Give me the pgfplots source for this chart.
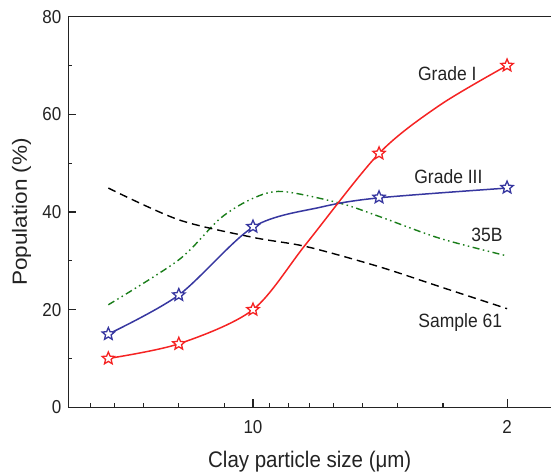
\documentclass[border=0pt]{standalone}
\usepackage{fontspec}
\setmainfont{Liberation Sans}
\usepackage{pgfplots}
\pgfplotsset{compat=1.18}

\pgfdeclareplotmark{ostar}{%
  \pgfpathmoveto{\pgfqpoint{0pt}{1\pgfplotmarksize}}%
  \pgfpathlineto{\pgfqpoint{0.2645\pgfplotmarksize}{0.364\pgfplotmarksize}}%
  \pgfpathlineto{\pgfqpoint{0.951\pgfplotmarksize}{0.309\pgfplotmarksize}}%
  \pgfpathlineto{\pgfqpoint{0.428\pgfplotmarksize}{-0.139\pgfplotmarksize}}%
  \pgfpathlineto{\pgfqpoint{0.588\pgfplotmarksize}{-0.809\pgfplotmarksize}}%
  \pgfpathlineto{\pgfqpoint{0pt}{-0.45\pgfplotmarksize}}%
  \pgfpathlineto{\pgfqpoint{-0.588\pgfplotmarksize}{-0.809\pgfplotmarksize}}%
  \pgfpathlineto{\pgfqpoint{-0.428\pgfplotmarksize}{-0.139\pgfplotmarksize}}%
  \pgfpathlineto{\pgfqpoint{-0.951\pgfplotmarksize}{0.309\pgfplotmarksize}}%
  \pgfpathlineto{\pgfqpoint{-0.2645\pgfplotmarksize}{0.364\pgfplotmarksize}}%
  \pgfpathclose
  \pgfusepathqfillstroke}

\definecolor{gred}{RGB}{245,35,35}
\definecolor{gblue}{RGB}{55,55,160}
\definecolor{ggreen}{RGB}{25,125,25}
\definecolor{axgray}{RGB}{35,35,35}

% measured points (marks)
\pgfplotstableread{
x y
25 10
16 13
10 20
4.5 52
2 70
}\gradeI
\pgfplotstableread{
x y
25 15
16 23
10 37
4.5 43
2 45
}\gradeIII
% curves read off the picture
\pgfplotstableread{
x y
25 10
16 13
10 20
7.12 33.6
4.5 52
3.06 61.9
2 70
}\gradeIcurve
\pgfplotstableread{
x y
25 15
16 23
10 36.9
6.5 41.0
4.5 42.9
2 44.9
}\gradeIIIcurve
\pgfplotstableread{
x y
25 21.0
16 30.2
12.3 38.7
10 42.8
8.3 44.2
5.76 41.8
4.5 39.1
3.06 34.6
2 31.0
}\thirtyfiveB
\pgfplotstableread{
x y
25 44.9
16 38.4
10 34.8
7.12 32.9
4.5 28.8
3.06 24.7
2 20.2
}\sampleSixtyOne

\begin{document}
\begin{tikzpicture}
\begin{axis}[
  scale only axis, width=482.5pt, height=390.6pt,
  xmode=log, x dir=reverse, xmin=1.514, xmax=32.18,
  ymin=0, ymax=80,
  axis x line*=box, axis y line*=left,
  xtick pos=left, ytick pos=left,
  axis line style={axgray, line width=1.3pt},
  every tick/.style={axgray, line width=1.1pt},
  tick align=inside,
  major tick length=8pt, minor tick length=4pt,
  xtick={2,10}, xticklabels={\scalebox{1}[1.1]{2},\scalebox{1}[1.1]{10}},
  minor xtick={3,4,5,6,7,8,9,12,16,20,24,28},
  ytick={0,20,40,60,80}, minor ytick={10,30,50,70},
  yticklabels={\scalebox{1}[1.1]{0},\scalebox{1}[1.1]{20},\scalebox{1}[1.1]{40},\scalebox{1}[1.1]{60},\scalebox{1}[1.1]{80}},
  tick label style={font=\fontsize{17}{20}\selectfont, text=axgray},
  xticklabel style={anchor=center, yshift=-19.7pt},
  yticklabel style={anchor=east, inner sep=0pt, xshift=-7pt},
  xlabel={\scalebox{1}[1.1]{Clay particle size (μm)}},
  ylabel={\scalebox{1.1}[1]{Population (\%)}},
  label style={font=\fontsize{20.5}{24}\selectfont, text=axgray},
  xlabel style={at={(axis description cs:0.5,0)}, anchor=center, yshift=-54.7pt},
  ylabel style={at={(axis description cs:-0.097,0.5)}, anchor=center},
  clip=false,
]
\addplot[ggreen, line width=1.4pt, smooth, dash pattern=on 7pt off 3.5pt on 1.5pt off 3.5pt on 1.5pt off 3.5pt] table[x=x,y=y] {\thirtyfiveB};
\addplot[black, line width=1.4pt, smooth, dash pattern=on 8pt off 5pt] table[x=x,y=y] {\sampleSixtyOne};
\addplot[gblue, line width=1.5pt, smooth, no markers] table[x=x,y=y] {\gradeIIIcurve};
\addplot[gblue, only marks, mark=ostar, mark size=6.5pt, mark options={solid, fill=white, line width=1.3pt}] table[x=x,y=y] {\gradeIII};
\addplot[gred, line width=1.5pt, smooth, no markers] table[x=x,y=y] {\gradeIcurve};
\addplot[gred, only marks, mark=ostar, mark size=6.5pt, mark options={solid, fill=white, line width=1.3pt}] table[x=x,y=y] {\gradeI};
\node[font=\fontsize{17.5}{20}\selectfont, text=axgray] at (axis cs:2.92,68.4) {\scalebox{1}[1.1]{Grade I}};
\node[font=\fontsize{17.5}{20}\selectfont, text=axgray] at (axis cs:2.90,47.3) {\scalebox{1}[1.1]{Grade III}};
\node[font=\fontsize{17.5}{20}\selectfont, text=axgray] at (axis cs:2.27,35.3) {\scalebox{1}[1.1]{35B}};
\node[font=\fontsize{17.5}{20}\selectfont, text=axgray] at (axis cs:2.69,17.3) {\scalebox{1}[1.1]{Sample 61}};
\end{axis}
\pgfresetboundingbox
\path[use as bounding box] ([shift={(-68.5pt,-66.7pt)}]current axis.south west) rectangle ([shift={(0pt,16.7pt)}]current axis.north east);
\end{tikzpicture}
\end{document}
